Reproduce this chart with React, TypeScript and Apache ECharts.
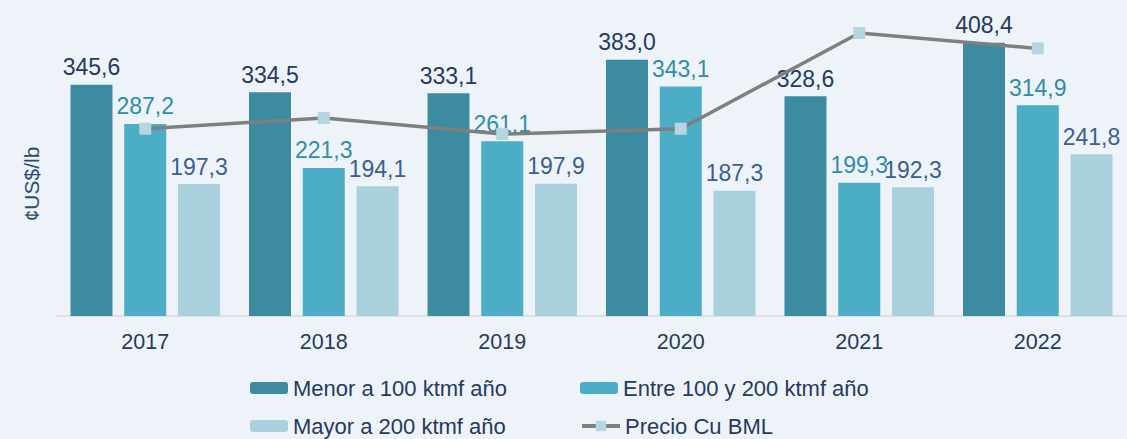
import React, { useEffect, useRef } from "react";
import * as echarts from "echarts";

const categories = ["2017", "2018", "2019", "2020", "2021", "2022"];
const menor100 = [345.6, 334.5, 333.1, 383.0, 328.6, 408.4];
const entre100y200 = [287.2, 221.3, 261.1, 343.1, 199.3, 314.9];
const mayor200 = [197.3, 194.1, 197.9, 187.3, 192.3, 241.8];
const precioCu = [280, 296, 272, 280, 423, 400];

const seriesNames = [
  "Menor a 100 ktmf año",
  "Entre 100 y 200 ktmf año",
  "Mayor a 200 ktmf año",
  "Precio Cu BML",
];

const fmt = (v: number) => v.toFixed(1).replace(".", ",");
const FONT = "Liberation Sans, Arial, sans-serif";

export default function App() {
  const ref = useRef<HTMLDivElement>(null);
  useEffect(() => {
    if (!ref.current) return;
    const chart = echarts.init(ref.current, undefined, { renderer: "svg" });
    const barLabel = (color: string) => ({
      show: true,
      position: "top" as const,
      distance: 6,
      color,
      fontSize: 23,
      fontFamily: FONT,
      formatter: (p: any) => fmt(p.value),
    });
    const legendAt = (name: string, left: number, top: number, extra: any = {}) => ({
      left,
      top,
      itemWidth: 38,
      itemHeight: 12,
      itemGap: 0,
      padding: 0,
      textStyle: { color: "#253a5c", fontSize: 22, fontFamily: FONT },
      data: [name],
      ...extra,
    });
    chart.setOption({
      animation: false,
      backgroundColor: "#eef3fa",
      textStyle: { fontFamily: FONT },
      grid: { left: 56, right: -1, top: 15, bottom: 123 },
      xAxis: {
        type: "category",
        data: categories,
        axisLine: { lineStyle: { color: "#d9d9d9", width: 1.5 } },
        axisTick: { show: false },
        axisLabel: { color: "#253a5c", fontSize: 21.5, margin: 15, fontFamily: FONT },
      },
      yAxis: {
        type: "value",
        min: 0,
        max: 450,
        show: false,
        splitLine: { show: false },
      },
      legend: [
        legendAt(seriesNames[0], 250, 377),
        legendAt(seriesNames[1], 580, 377),
        legendAt(seriesNames[2], 250, 415),
        legendAt(seriesNames[3], 580, 415, {
          itemHeight: 13,
          lineStyle: { width: 4, color: "#7f7f7f" },
        }),
      ],
      graphic: [
        {
          type: "text",
          x: 31,
          y: 184,
          rotation: Math.PI / 2,
          style: {
            text: "¢US$/lb",
            fill: "#2c4a70",
            fontSize: 21,
            fontFamily: FONT,
            align: "center",
            verticalAlign: "middle",
          },
        },
      ],
      series: [
        {
          name: seriesNames[0],
          type: "bar",
          data: menor100,
          barWidth: 42,
          barGap: "28%",
          itemStyle: { color: "#3c8ba1" },
          label: barLabel("#253a5c"),
        },
        {
          name: seriesNames[1],
          type: "bar",
          data: entre100y200,
          barWidth: 42,
          barGap: "28%",
          itemStyle: { color: "#4badc6" },
          label: barLabel("#2e8ea6"),
        },
        {
          name: seriesNames[2],
          type: "bar",
          data: mayor200,
          barWidth: 42,
          barGap: "28%",
          itemStyle: { color: "#a9d0dd" },
          label: barLabel("#3b5f8e"),
        },
        {
          name: seriesNames[3],
          type: "line",
          data: precioCu,
          symbol: "rect",
          symbolSize: 12,
          lineStyle: { color: "#7f7f7f", width: 3.5 },
          itemStyle: { color: "#b5d6e1" },
          z: 5,
        },
      ],
    });
    return () => chart.dispose();
  }, []);
  return (
    <div
      ref={ref}
      style={{ position: "fixed", left: 0, top: 0, width: 1127, height: 439 }}
    />
  );
}
